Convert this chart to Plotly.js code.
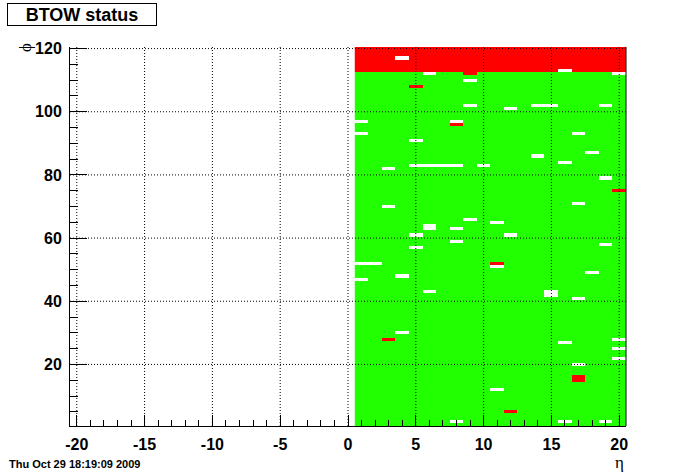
<!DOCTYPE html>
<html>
<head>
<meta charset="utf-8">
<script src="https://cdn.plot.ly/plotly-3.0.1.min.js"></script>
<style>html,body{margin:0;padding:0;background:#fff;}#chart{width:696px;height:474px;}</style>
</head>
<body>
<div id="chart"></div>
<script>
// ---- data ----
const etaBins = [1,2,3,4,5,6,7,8,9,10,11,12,13,14,15,16,17,18,19,20];
const phiMin = 1, phiMax = 120;            // phi bin range of the detector map
const badPhiRows = [113,114,115,116,117,118,119,120];   // whole rows flagged bad (red)
// cells with no data (drawn white): [eta, phi]
const deadCells = [
  [4,117],[16,113],[6,112],[20,112],[9,110],
  [9,102],[14,102],[15,102],[19,102],[12,101],
  [1,97],[8,97],[1,93],[17,93],[5,91],[18,87],[14,86],[16,84],
  [5,83],[6,83],[7,83],[8,83],[10,83],[3,82],[19,79],[17,71],[3,70],
  [9,66],[11,65],[6,64],[6,63],[8,63],[5,61],[12,61],[8,59],[19,58],[5,57],
  [1,52],[2,52],[11,51],[18,49],[4,48],[1,47],[6,43],[15,43],[15,42],[17,41],
  [4,30],[20,28],[16,27],[20,25],[20,22],[17,20],[11,12],[8,2],[16,2],[19,2]
];
// cells flagged bad (red): [eta, phi]
const hotCells = [
  [9,112],[5,108],[8,96],[20,75],[11,52],[3,28],[17,16],[17,15],[12,5]
];
const xTickVals = [-20,-15,-10,-5,0,5,10,15,20];
const xTickText = ['-20','-15','-10','-5','0','5','10','15','20'];
const yTickVals = [20,40,60,80,100,120];
const yTickText = ['20','40','60','80','100','120'];
const GOOD = 1, BAD = 2;

// ---- build status grid ----
const phiBins = [];
for (let p = phiMin; p <= phiMax; p++) phiBins.push(p);
const z = phiBins.map(p => etaBins.map(() => (badPhiRows.includes(p) ? BAD : GOOD)));
function setCell(eta, phi, v) {
  const r = phiBins.indexOf(phi), c = etaBins.indexOf(eta);
  if (r >= 0 && c >= 0) z[r][c] = v;
}
deadCells.forEach(([e, p]) => setCell(e, p, null));
hotCells.forEach(([e, p]) => setCell(e, p, BAD));

const trace = {
  type: 'heatmap',
  x: etaBins, y: phiBins, z: z,
  zmin: 1, zmax: 2,
  colorscale: [[0,'#22ff00'],[0.5,'#22ff00'],[0.5,'#ff0000'],[1,'#ff0000']],
  showscale: false, hoverinfo: 'skip', xgap: 0, ygap: 0
};

const dotted = {color: '#000', width: 1, dash: '1px,2px'};
const shapes = [];
xTickVals.forEach(v => shapes.push({type:'line', xref:'x', yref:'paper', x0:v, x1:v, y0:0, y1:1, line:dotted, layer:'above'}));
yTickVals.forEach(v => shapes.push({type:'line', xref:'paper', yref:'y', x0:0, x1:1, y0:v, y1:v, line:dotted, layer:'above'}));
shapes.push({type:'line', xref:'paper', yref:'paper', x0:1, x1:1, y0:0, y1:1, line:{color:'#000', width:1}, layer:'above'});

const tickFont = {family: 'Liberation Sans, Arial, sans-serif', size: 16, color: '#000', weight: 'bold'};

const layout = {
  width: 696, height: 474,
  margin: {l: 70, r: 70, t: 47, b: 48, pad: 0},
  paper_bgcolor: '#fff', plot_bgcolor: '#fff',
  showlegend: false,
  xaxis: {
    range: [-20.5, 20.5], tickvals: xTickVals, ticktext: xTickText, showgrid: false, zeroline: false,
    showline: true, linecolor: '#000', linewidth: 1, mirror: false,
    ticks: 'inside', ticklen: 11, tickwidth: 1, tickcolor: '#000',
    minor: {ticks: 'inside', ticklen: 6, tickwidth: 1, tickcolor: '#000', dtick: 1, tick0: 0, showgrid: false},
    tickfont: tickFont, layer: 'above traces', ticklabelstandoff: 4
  },
  yaxis: {
    range: [0.5, 120.5], tickvals: yTickVals, ticktext: yTickText, showgrid: false, zeroline: false,
    showline: true, linecolor: '#000', linewidth: 1,
    ticks: 'inside', ticklen: 17, tickwidth: 1, tickcolor: '#000',
    minor: {ticks: 'inside', ticklen: 8, tickwidth: 1, tickcolor: '#000', dtick: 5, tick0: 0, showgrid: false},
    tickfont: tickFont, layer: 'above traces', ticklabelstandoff: 4
  },
  shapes: shapes,
  annotations: [
    {text: 'BTOW status', xref: 'paper', yref: 'paper', x: -0.1133, y: 1.1161, xanchor: 'left', yanchor: 'top',
     showarrow: false, width: 148, height: 21, align: 'center', valign: 'middle',
     bordercolor: '#000', borderwidth: 1, borderpad: 0, bgcolor: '#fff',
     font: {family: 'Liberation Sans, Arial, sans-serif', size: 18, color: '#000', weight: 'bold'}},
    {text: 'ϕ', xref: 'paper', yref: 'paper', x: -0.081, y: 1.0, xanchor: 'center', yanchor: 'middle',
     showarrow: false, textangle: -90,
     font: {family: 'Liberation Serif, serif', size: 17, color: '#000'}},
    {text: 'η', xref: 'paper', yref: 'paper', x: 0.989, y: -0.095, xanchor: 'center', yanchor: 'middle',
     showarrow: false, font: {family: 'Liberation Serif, serif', size: 17, color: '#000'}},
    {text: 'Thu Oct 29 18:19:09 2009', xref: 'paper', yref: 'paper', x: -0.1133, y: -0.1003, xanchor: 'left', yanchor: 'middle',
     showarrow: false, font: {family: 'Liberation Sans, Arial, sans-serif', size: 11, color: '#000', weight: 'bold'}}
  ]
};

Plotly.newPlot('chart', [trace], layout, {staticPlot: true, displayModeBar: false});
</script>
</body>
</html>
